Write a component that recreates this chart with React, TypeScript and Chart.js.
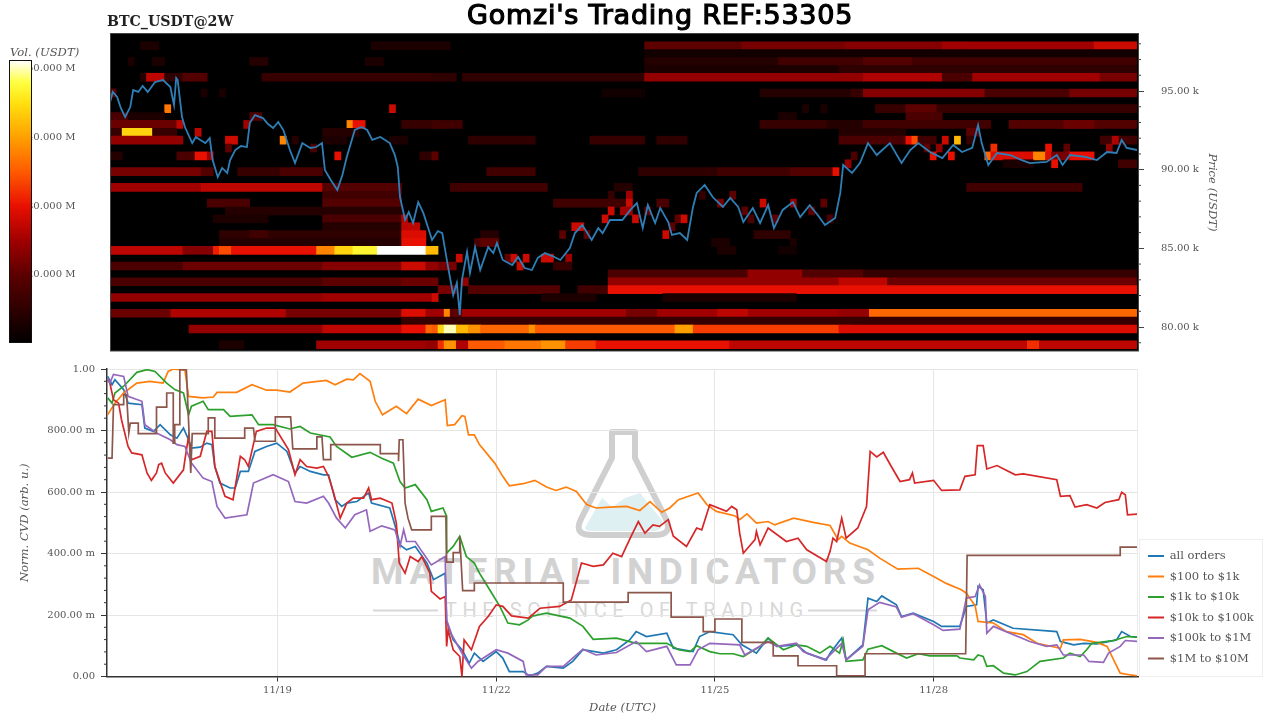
import React, { useEffect, useRef } from "react";
import { Chart, registerables } from "chart.js";

Chart.register(...registerables);

const serif = '"DejaVu Serif", serif';
Chart.defaults.font.family = serif;
Chart.defaults.color = "#555";

// ---------- Labels ----------
const dateTicks = [19, 22, 25, 28];
const dateLabels: Record<number, string> = { 19: "11/19", 22: "11/22", 25: "11/25", 28: "11/28" };
const priceTicks = [80000, 85000, 90000, 95000];
const priceMinorTicks = [79000, 81000, 82000, 83000, 84000, 86000, 87000, 88000, 89000, 91000, 92000, 93000, 94000, 96000, 97000, 98000];
const volumeTicks = [20, 30, 40, 50];
const cvdTicks = [0, 0.2, 0.4, 0.6, 0.8, 1];
const cvdMinorTicks = [0.04, 0.08, 0.12, 0.16, 0.24, 0.28, 0.32, 0.36, 0.44, 0.48, 0.52, 0.56, 0.64, 0.68, 0.72, 0.76, 0.84, 0.88, 0.92, 0.96];

// ---------- Heat map: price rows (USDT) and runs of 2-hour columns ----------
const heatFirstDay = 16.702;
const columnsPerDay = 12;
const rowPrices = [97875, 97375, 96875, 96375, 95875, 95375, 94875, 94375, 93875, 93375, 92875, 92375, 91875, 91375, 90875, 90375, 89875, 89375, 88875, 88375, 87875, 87375, 86875, 86375, 85875, 85375, 84875, 84375, 83875, 83375, 82875, 82375, 81875, 81375, 80875, 80375, 79875, 79375, 78875];

// [row, first column, end column, volume in M]
const heatRunsUpper: number[][] = [
  [0,5,8,13],[0,43,56,13],[0,88,104,20],[0,104,121,22],[0,121,137,23],[0,137,141,25],[0,141,162,25],[0,162,169,28],
  [1,88,169,12],
  [2,3,4,13],[2,7,9,13],[2,23,26,14],[2,42,45,13],[2,88,110,14],[2,110,169,17],[2,124,132,19],
  [3,88,120,13],[3,120,169,15],
  [4,5,6,14],[4,6,9,27],[4,9,12,15],[4,12,16,19],[4,25,54,16],[4,53,57,15],[4,58,88,15],[4,88,124,24],[4,124,137,26],[4,137,142,18],[4,142,163,25],[4,163,169,22],
  [6,0,1,20],[6,15,16,13],[6,18,19,13],[6,81,88,12],[6,107,122,14],[6,122,124,16],[6,124,144,23],[6,144,158,18],[6,158,169,22],
  [8,9,10,37],[8,46,47,28],[8,114,115,13],[8,117,118,13],[8,126,169,16],[8,131,136,20],
  [9,0,3,18],[9,3,9,13],[9,23,25,19],[9,110,113,13],[9,131,137,18],
  [10,0,11,21],[10,11,12,27],[10,22,23,25],[10,39,40,38],[10,40,42,30],[10,48,54,16],[10,53,58,17],[10,107,118,16],[10,118,124,14],[10,124,145,17],[10,148,169,19],[10,157,162,21],
  [11,0,2,16],[11,2,7,44],[11,7,11,16],[11,14,15,27],[11,35,41,14],[11,120,131,14],[11,141,143,20],
  [12,0,12,24],[12,19,21,28],[12,28,29,38],[12,30,31,14],[12,35,39,13],[12,46,49,13],[12,59,70,15],[12,79,88,16],[12,90,95,15],[12,120,131,18],[12,131,132,30],[12,132,133,34],[12,133,136,17],[12,137,138,28],[12,139,140,42],[12,141,142,16],[12,163,169,17],[12,165,166,26],
  [13,19,20,20],[13,33,34,18],[13,134,135,20],[13,136,137,24],[13,145,146,32],[13,154,155,30],[13,157,158,20],[13,164,165,24],
  [14,0,2,14],[14,11,14,18],[14,14,16,30],[14,16,17,25],[14,37,38,30],[14,51,54,15],[14,53,54,20],[14,122,123,18],[14,135,136,30],[14,138,139,30],[14,144,145,36],[14,145,152,29],[14,152,154,38],[14,154,155,29],[14,155,158,22],[14,158,162,30],
  [15,147,152,13],[15,155,156,30],[15,166,169,17],[15,121,122,24],
];

const heatRunsNearPrice: number[][] = [
  [16,0,15,22],[16,15,17,19],[16,21,28,16],[16,28,35,18],[16,62,70,17],[16,87,100,15],[16,100,112,17],[16,112,119,19],[16,119,120,30],
  [18,0,15,25],[18,15,35,27],[18,35,48,19],[18,56,72,17],[18,83,86,14],[18,141,160,17],
  [19,35,48,17],[19,82,83,16],[19,85,86,25],[19,97,98,16],[19,102,103,20],
  [20,16,23,18],[20,35,48,19],[20,73,85,17],[20,85,86,28],[20,90,92,18],[20,100,101,22],[20,107,108,28],[20,112,113,24],[20,117,118,20],
  [21,19,35,14],[21,35,48,14],[21,82,83,28],[21,84,86,25],[21,88,89,20],[21,104,105,20],[21,115,116,20],
  [22,17,26,13],[22,35,48,18],[22,48,49,26],[22,81,82,28],[22,86,87,28],[22,93,94,20],[22,94,95,28],[22,105,106,18],[22,109,110,20],[22,118,119,18],
  [23,35,48,14],[23,48,51,27],[23,76,78,28],[23,92,93,20],
  [24,18,48,15],[24,23,26,17],[24,48,52,29],[24,61,64,14],[24,74,75,20],[24,78,79,20],[24,91,92,28],[24,106,112,15],
  [25,18,48,14],[25,48,52,30],[25,60,64,18],[25,61,64,20],[25,99,102,13],[25,112,113,13],
];

const heatRunsLower: number[][] = [
  [26,0,12,27],[26,12,17,23],[26,17,18,31],[26,18,20,34],[26,20,34,30],[26,34,37,38],[26,37,40,44],[26,40,44,47],[26,44,52,52],[26,52,54,42],[26,100,103,13],[26,110,113,12],
  [27,57,58,28],[27,65,66,20],[27,66,67,28],[27,68,69,28],[27,71,73,28],[27,75,76,25],
  [28,0,12,18],[28,12,35,21],[28,35,48,23],[28,48,52,28],[28,52,54,24],[28,54,57,22],[28,67,68,28],[28,73,76,16],
  [29,82,105,18],[29,105,114,24],[29,114,124,19],[29,124,169,16],
  [30,0,35,18],[30,35,48,20],[30,48,54,21],[30,58,59,24],[30,82,120,24],[30,120,128,27],[30,128,169,21],
  [31,54,57,22],[31,59,74,19],[31,77,82,17],[31,82,169,30],
  [32,0,35,24],[32,35,54,25],[32,53,54,28],[32,71,80,13],[32,91,113,13],
  [34,0,10,21],[34,10,29,26],[34,29,48,22],[34,48,52,29],[34,52,55,25],[34,55,56,38],[34,56,58,20],[34,58,120,25],[34,85,90,22],[34,100,105,27],[34,120,125,24],[34,125,169,36],
  [35,48,53,16],[35,53,169,16],
  [36,13,35,24],[36,35,48,27],[36,48,52,30],[36,52,53,36],[36,53,54,35],[36,54,55,44],[36,55,57,50],[36,57,59,42],[36,59,61,39],[36,61,69,36],[36,69,70,39],[36,70,93,35],[36,93,96,40],[36,96,120,33],[36,120,122,29],[36,122,169,29],
  [38,18,22,13],[38,34,52,25],[38,52,54,24],[38,54,55,32],[38,55,57,39],[38,57,59,26],[38,59,65,35],[38,65,71,37],[38,71,75,39],[38,75,80,33],[38,80,102,30],[38,102,151,27],[38,151,153,32],[38,153,169,27],
];

// ---------- BTC price: [day of November, price in thousand USDT] ----------
const priceLine: number[][] = [
  [16.70,94.24],[16.74,94.94],[16.80,94.62],[16.85,93.92],[16.91,93.35],[16.98,93.98],[17.02,95.06],[17.09,94.94],[17.15,95.32],[17.22,94.94],[17.32,95.57],[17.43,95.70],[17.53,95.25],[17.58,94.11],[17.61,95.83],[17.63,95.70],[17.69,93.35],[17.73,92.71],[17.83,91.69],[17.88,92.08],[17.94,91.89],[18.01,91.69],[18.07,92.01],[18.11,90.61],[18.18,89.53],[18.24,90.11],[18.31,89.79],[18.35,90.61],[18.42,91.25],[18.50,91.50],[18.58,91.44],[18.62,92.97],[18.69,93.47],[18.80,93.28],[18.87,92.90],[18.94,92.65],[19.01,93.03],[19.08,92.52],[19.17,91.25],[19.24,90.42],[19.34,91.69],[19.45,91.38],[19.53,91.44],[19.61,91.69],[19.65,89.98],[19.73,89.34],[19.82,88.71],[19.89,89.66],[19.95,90.81],[20.06,92.52],[20.15,92.71],[20.23,92.52],[20.30,91.89],[20.41,92.08],[20.54,91.69],[20.61,90.93],[20.65,90.17],[20.68,88.26],[20.75,86.80],[20.80,87.31],[20.86,86.61],[20.93,87.94],[21.00,87.25],[21.12,85.53],[21.20,86.10],[21.26,85.97],[21.34,83.81],[21.41,82.03],[21.46,82.80],[21.50,80.76],[21.53,82.99],[21.60,84.77],[21.64,83.43],[21.71,85.08],[21.78,83.62],[21.89,85.08],[21.96,84.70],[22.01,85.34],[22.09,84.26],[22.22,83.94],[22.30,84.45],[22.39,83.75],[22.49,83.62],[22.57,84.39],[22.67,84.70],[22.77,84.51],[22.88,84.26],[23.01,85.02],[23.08,85.97],[23.18,86.48],[23.31,85.53],[23.40,86.29],[23.46,85.97],[23.56,86.80],[23.73,86.80],[23.84,87.44],[23.93,87.88],[24.01,86.29],[24.08,87.75],[24.18,86.61],[24.25,87.56],[24.36,86.67],[24.41,85.85],[24.52,85.97],[24.62,85.53],[24.70,87.63],[24.75,88.52],[24.86,89.03],[24.97,88.26],[25.11,87.63],[25.21,88.20],[25.32,87.63],[25.39,86.67],[25.52,87.56],[25.62,86.61],[25.73,87.75],[25.81,86.29],[25.93,87.44],[26.07,87.94],[26.17,86.99],[26.30,87.75],[26.41,87.12],[26.51,86.48],[26.65,86.93],[26.72,88.52],[26.76,90.30],[26.88,89.79],[26.99,90.42],[27.10,91.69],[27.22,90.93],[27.40,91.69],[27.56,90.42],[27.68,91.25],[27.79,91.69],[27.95,91.12],[28.12,90.74],[28.27,91.57],[28.39,91.12],[28.53,91.38],[28.61,92.84],[28.66,91.69],[28.75,90.30],[28.87,91.06],[29.05,90.93],[29.21,90.61],[29.32,90.42],[29.55,90.49],[29.69,90.93],[29.77,90.30],[29.87,90.93],[30.08,90.81],[30.24,90.61],[30.38,91.12],[30.51,91.06],[30.58,91.89],[30.65,91.38],[30.79,91.25],
];

// ---------- Normalised CVD: [day of November, value] ----------
const allOrders: number[][] = [
  [16.67,.976],[16.73,.949],[16.77,.965],[16.89,.933],[16.95,.889],[17.14,.884],[17.18,.808],[17.30,.797],[17.39,.819],[17.53,.786],[17.62,.775],[17.71,.808],[17.78,.770],[17.82,.743],[17.94,.746],[18.03,.759],[18.10,.754],[18.14,.683],[18.21,.629],[18.35,.613],[18.42,.613],[18.49,.667],[18.60,.667],[18.69,.732],[18.85,.748],[18.99,.759],[19.13,.732],[19.24,.662],[19.31,.683],[19.45,.667],[19.63,.656],[19.70,.656],[19.79,.575],[19.88,.553],[19.95,.564],[20.09,.569],[20.25,.597],[20.29,.564],[20.54,.548],[20.63,.477],[20.68,.428],[20.77,.412],[20.89,.423],[21.05,.369],[21.14,.315],[21.30,.336],[21.32,.179],[21.41,.119],[21.53,.087],[21.63,.043],[21.70,.076],[21.82,.049],[22.00,.081],[22.09,.060],[22.18,.016],[22.37,.016],[22.46,.002],[22.57,.011],[22.69,.033],[22.92,.027],[23.05,.049],[23.19,.087],[23.47,.076],[23.65,.087],[23.83,.119],[23.92,.146],[24.06,.130],[24.34,.141],[24.43,.092],[24.70,.081],[24.79,.130],[24.93,.146],[25.25,.136],[25.37,.103],[25.57,.076],[25.73,.125],[25.85,.098],[26.12,.103],[26.26,.076],[26.53,.054],[26.58,.076],[26.74,.125],[26.80,.054],[27.03,.103],[27.10,.255],[27.22,.244],[27.29,.262],[27.49,.233],[27.56,.195],[27.72,.206],[28.00,.179],[28.11,.163],[28.36,.163],[28.45,.228],[28.59,.233],[28.61,.293],[28.68,.282],[28.73,.174],[28.82,.184],[29.09,.157],[29.69,.146],[29.74,.114],[29.92,.103],[30.06,.108],[30.24,.106],[30.51,.119],[30.58,.146],[30.70,.130],[30.79,.128],
];
const orders100to1k: number[][] = [
  [16.67,.851],[16.77,.889],[16.89,.922],[17.07,.954],[17.25,.960],[17.43,.954],[17.50,.992],[17.57,1],[17.73,.996],[17.78,.911],[17.98,.906],[18.12,.909],[18.17,.924],[18.44,.924],[18.65,.949],[18.85,.931],[18.99,.931],[19.17,.925],[19.35,.954],[19.67,.963],[19.79,.949],[19.95,.967],[20.04,.965],[20.13,.985],[20.27,.960],[20.34,.895],[20.44,.851],[20.63,.879],[20.77,.855],[20.93,.902],[21.11,.881],[21.30,.900],[21.33,.816],[21.43,.819],[21.53,.848],[21.57,.846],[21.62,.786],[21.70,.786],[21.77,.754],[21.98,.694],[22.09,.651],[22.18,.620],[22.37,.627],[22.53,.638],[22.69,.616],[22.82,.605],[22.96,.616],[23.10,.602],[23.24,.559],[23.37,.548],[23.56,.551],[23.79,.553],[23.97,.540],[24.11,.569],[24.27,.534],[24.38,.548],[24.50,.575],[24.77,.597],[24.89,.559],[25.02,.537],[25.27,.523],[25.34,.510],[25.44,.529],[25.57,.499],[25.73,.504],[25.82,.493],[26.08,.515],[26.35,.501],[26.58,.491],[26.69,.445],[26.74,.456],[26.85,.434],[27.10,.412],[27.26,.385],[27.51,.349],[27.79,.352],[28.00,.325],[28.18,.302],[28.38,.282],[28.45,.271],[28.57,.230],[28.61,.179],[28.82,.174],[29.00,.146],[29.23,.136],[29.42,.108],[29.74,.092],[29.78,.119],[30.01,.121],[30.24,.111],[30.38,.098],[30.47,.054],[30.56,.011],[30.70,.005],[30.79,.002],
];
const orders1kto10k: number[][] = [
  [16.67,.906],[16.73,.889],[16.77,.922],[16.89,.944],[17.07,.989],[17.21,.998],[17.32,.992],[17.48,.954],[17.59,.933],[17.71,.922],[17.78,.851],[17.82,.879],[17.98,.895],[18.05,.868],[18.26,.868],[18.35,.846],[18.65,.851],[18.74,.819],[18.94,.819],[19.17,.805],[19.31,.813],[19.45,.792],[19.72,.779],[19.81,.748],[20.02,.713],[20.27,.729],[20.43,.710],[20.59,.694],[20.68,.634],[20.75,.613],[20.89,.624],[21.05,.575],[21.11,.537],[21.27,.548],[21.32,.521],[21.32,.401],[21.41,.423],[21.50,.456],[21.59,.390],[21.70,.369],[21.77,.336],[21.91,.282],[22.05,.228],[22.16,.174],[22.32,.168],[22.44,.184],[22.50,.197],[22.69,.206],[23.01,.190],[23.19,.163],[23.33,.121],[23.65,.125],[23.92,.108],[24.34,.108],[24.50,.087],[24.66,.081],[24.75,.100],[24.93,.081],[25.07,.074],[25.25,.074],[25.39,.065],[25.62,.098],[25.73,.125],[25.94,.087],[26.12,.103],[26.26,.098],[26.44,.076],[26.58,.098],[26.71,.076],[26.76,.119],[26.80,.049],[27.03,.054],[27.10,.089],[27.29,.100],[27.49,.076],[27.63,.060],[27.79,.074],[27.95,.067],[28.32,.067],[28.36,.060],[28.55,.054],[28.61,.070],[28.68,.065],[28.73,.033],[28.82,.035],[28.96,.011],[29.12,.005],[29.28,.016],[29.46,.049],[29.78,.060],[29.87,.076],[30.01,.065],[30.10,.087],[30.17,.108],[30.47,.117],[30.65,.130],[30.79,.128],
];
const orders10kto100k: number[][] = [
  [16.67,.965],[16.70,.954],[16.75,.900],[16.82,.889],[16.86,.835],[16.95,.748],[17.00,.727],[17.14,.721],[17.21,.662],[17.27,.638],[17.34,.662],[17.37,.689],[17.41,.694],[17.46,.662],[17.57,.629],[17.71,.672],[17.73,.705],[17.78,.781],[17.82,.705],[17.94,.716],[18.03,.797],[18.10,.797],[18.14,.683],[18.28,.586],[18.39,.575],[18.49,.716],[18.55,.705],[18.60,.683],[18.71,.797],[18.85,.808],[18.97,.808],[19.15,.738],[19.24,.656],[19.31,.705],[19.40,.683],[19.54,.678],[19.63,.683],[19.70,.651],[19.77,.597],[19.86,.515],[19.95,.564],[20.04,.580],[20.18,.580],[20.25,.613],[20.29,.575],[20.41,.580],[20.57,.564],[20.63,.499],[20.67,.369],[20.75,.336],[20.82,.390],[20.93,.374],[20.98,.390],[21.09,.336],[21.11,.277],[21.23,.252],[21.30,.260],[21.32,.098],[21.34,.152],[21.41,.087],[21.50,.065],[21.53,0],[21.56,.119],[21.66,.087],[21.77,.163],[21.89,.195],[22.00,.233],[22.09,.228],[22.21,.197],[22.44,.190],[22.60,.222],[22.87,.228],[23.03,.249],[23.17,.369],[23.33,.358],[23.47,.363],[23.60,.401],[23.72,.390],[23.85,.456],[23.95,.504],[24.04,.466],[24.15,.493],[24.24,.488],[24.36,.510],[24.43,.456],[24.61,.423],[24.75,.483],[24.82,.477],[24.93,.559],[25.16,.537],[25.23,.553],[25.30,.542],[25.34,.466],[25.39,.401],[25.55,.445],[25.57,.472],[25.62,.428],[25.73,.483],[25.98,.439],[26.14,.450],[26.26,.412],[26.53,.374],[26.58,.407],[26.62,.450],[26.67,.439],[26.74,.515],[26.80,.450],[26.96,.483],[27.08,.553],[27.13,.732],[27.22,.714],[27.31,.729],[27.42,.683],[27.54,.634],[27.67,.640],[27.71,.662],[27.74,.629],[28.00,.638],[28.11,.605],[28.36,.607],[28.43,.651],[28.57,.656],[28.60,.751],[28.68,.751],[28.73,.675],[28.87,.686],[29.12,.656],[29.23,.659],[29.69,.640],[29.74,.586],[29.87,.588],[29.94,.551],[30.10,.559],[30.24,.548],[30.35,.566],[30.54,.575],[30.58,.599],[30.63,.591],[30.66,.526],[30.79,.528],
];
const orders100kto1M: number[][] = [
  [16.67,.971],[16.70,.954],[16.75,.982],[16.89,.976],[16.95,.911],[17.14,.895],[17.18,.819],[17.34,.792],[17.53,.770],[17.62,.754],[17.73,.748],[17.82,.694],[17.98,.645],[18.10,.634],[18.17,.553],[18.28,.515],[18.58,.526],[18.67,.629],[18.94,.656],[19.15,.634],[19.24,.569],[19.40,.564],[19.63,.586],[19.70,.564],[19.81,.515],[19.93,.483],[20.06,.526],[20.22,.542],[20.27,.472],[20.43,.490],[20.61,.477],[20.68,.423],[20.73,.477],[20.77,.439],[20.89,.439],[20.98,.407],[21.11,.363],[21.30,.390],[21.32,.184],[21.39,.136],[21.53,.076],[21.66,.027],[21.75,.049],[22.00,.087],[22.16,.076],[22.37,.049],[22.41,.005],[22.57,.005],[22.69,.033],[22.92,.033],[23.10,.070],[23.19,.089],[23.37,.070],[23.65,.078],[23.92,.114],[24.06,.081],[24.34,.098],[24.47,.038],[24.66,.038],[24.77,.087],[24.93,.108],[25.34,.103],[25.41,.070],[25.73,.114],[25.85,.098],[26.12,.108],[26.21,.081],[26.51,.054],[26.58,.070],[26.74,.108],[26.80,.054],[27.03,.098],[27.10,.217],[27.26,.241],[27.49,.226],[27.56,.193],[27.72,.204],[28.00,.168],[28.13,.150],[28.36,.154],[28.45,.255],[28.57,.260],[28.63,.298],[28.71,.260],[28.73,.141],[28.82,.163],[29.32,.114],[29.55,.098],[29.69,.103],[29.78,.070],[30.06,.070],[30.13,.049],[30.33,.046],[30.40,.076],[30.56,.098],[30.63,.117],[30.79,.114],
];
const orders1Mto10M: number[][] = [
  [16.67,.710],[16.73,.710],[16.75,.884],[16.89,.884],[16.89,.916],[16.93,.916],[16.96,.792],[16.98,.824],[17.09,.824],[17.09,.790],[17.34,.790],[17.34,.876],[17.48,.876],[17.48,.922],[17.57,.922],[17.57,.759],[17.59,.759],[17.59,.819],[17.66,.819],[17.66,.998],[17.75,.998],[17.81,.662],[17.83,.790],[18.05,.790],[18.05,.841],[18.14,.841],[18.14,.775],[18.55,.775],[18.55,.808],[18.67,.808],[18.69,.765],[18.97,.765],[18.97,.844],[19.18,.844],[19.21,.740],[19.53,.740],[19.54,.779],[19.61,.779],[19.63,.705],[19.73,.705],[19.73,.754],[20.41,.754],[20.41,.725],[20.66,.725],[20.66,.700],[20.67,.770],[20.72,.770],[20.75,.564],[20.79,.515],[20.84,.477],[21.11,.477],[21.11,.521],[21.31,.521],[21.32,.372],[21.41,.372],[21.41,.403],[21.50,.403],[21.50,.456],[21.54,.279],[21.70,.279],[21.70,.304],[22.92,.304],[22.92,.242],[23.81,.242],[23.81,.273],[24.40,.273],[24.40,.193],[24.84,.193],[24.84,.146],[25.00,.146],[25.00,.187],[25.37,.187],[25.37,.111],[25.80,.111],[25.80,.067],[26.14,.067],[26.14,.035],[26.67,.035],[26.67,.002],[27.06,.002],[27.06,.074],[28.44,.074],[28.46,.394],[30.56,.394],[30.56,.421],[30.79,.421],
];

const cvdSeries = [
  { label: "all orders", values: allOrders, color: "#1f77b4" },
  { label: "$100 to $1k", values: orders100to1k, color: "#ff7f0e" },
  { label: "$1k to $10k", values: orders1kto10k, color: "#2ca02c" },
  { label: "$10k to $100k", values: orders10kto100k, color: "#d62728" },
  { label: "$100k to $1M", values: orders100kto1M, color: "#9467bd" },
  { label: "$1M to $10M", values: orders1Mto10M, color: "#8c564b" },
];

// ---------- Colour scale ----------
const colorStops: [number, number[]][] = [
  [10, [0, 0, 0]], [15, [46, 0, 0]], [20, [92, 0, 0]], [25, [160, 0, 0]], [30, [232, 16, 0]],
  [35, [255, 90, 0]], [40, [255, 160, 0]], [45, [255, 224, 16]], [48, [255, 255, 64]], [51.2, [255, 255, 255]],
];
function heatColor(v: number): string {
  if (v <= colorStops[0][0]) return "rgb(0,0,0)";
  for (let i = 1; i < colorStops.length; i++) {
    const [v1, c1] = colorStops[i];
    if (v <= v1) {
      const [v0, c0] = colorStops[i - 1];
      const f = (v - v0) / (v1 - v0);
      return `rgb(${c0.map((c, k) => Math.round(c + (c1[k] - c) * f)).join(",")})`;
    }
  }
  return "rgb(255,255,255)";
}
const colorbarLevels: number[] = [];
for (let v = 10.1; v <= 51.2; v += 0.25) colorbarLevels.push(v);

// ---------- Plugins ----------
const minorTicksPlugin = {
  id: "minorTicks",
  afterDatasetsDraw(chart: any, _a: any, o: any) {
    if (!o.values) return;
    const s = chart.scales[o.axis];
    const ctx = chart.ctx;
    ctx.save();
    ctx.strokeStyle = o.color;
    ctx.lineWidth = 1;
    ctx.beginPath();
    for (const v of o.values) {
      const y = s.getPixelForValue(v);
      ctx.moveTo(o.side === "right" ? chart.chartArea.right : chart.chartArea.left, y);
      ctx.lineTo((o.side === "right" ? chart.chartArea.right : chart.chartArea.left) + (o.side === "right" ? o.length : -o.length), y);
    }
    ctx.stroke();
    ctx.restore();
  },
};

const blackPlotPlugin = {
  id: "blackPlot",
  beforeDatasetsDraw(chart: any) {
    const { ctx, chartArea: a } = chart;
    ctx.save();
    ctx.fillStyle = "#000";
    ctx.fillRect(a.left, a.top, a.right - a.left, a.bottom - a.top);
    ctx.restore();
  },
  afterDatasetsDraw(chart: any) {
    const { ctx, chartArea: a } = chart;
    ctx.save();
    ctx.strokeStyle = "#444";
    ctx.lineWidth = 1;
    ctx.strokeRect(a.left + 0.5, a.top - 0.5, a.right - a.left, a.bottom - a.top + 0.5);
    ctx.restore();
  },
};

const colorbarFramePlugin = {
  id: "colorbarFrame",
  afterDatasetsDraw(chart: any) {
    const { ctx, chartArea: a } = chart;
    ctx.save();
    ctx.strokeStyle = "#111";
    ctx.lineWidth = 1;
    ctx.strokeRect(a.left + 0.5, a.top + 0.5, a.right - a.left - 1, a.bottom - a.top - 1);
    ctx.restore();
  },
};

const legendPlacePlugin = {
  id: "legendPlace",
  afterLayout(chart: any) {
    const l = chart.legend;
    l.left = 1139;
    l.right = 1262;
    l.top = 181.3;
    l.bottom = 317;
  },
  beforeDraw(chart: any) {
    const { ctx, chartArea: a } = chart;
    ctx.save();
    ctx.strokeStyle = "#eeeeee";
    ctx.fillStyle = "#fff";
    ctx.fillRect(1139.5, 179.5, 123, 137);
    ctx.strokeRect(1139.5, 179.5, 123, 137);
    ctx.strokeStyle = "#ececec";
    ctx.beginPath();
    ctx.moveTo(a.left, a.top + 0.5);
    ctx.lineTo(a.right - 0.5, a.top + 0.5);
    ctx.lineTo(a.right - 0.5, a.bottom);
    ctx.stroke();
    ctx.restore();
  },
};

// ---------- Component ----------
export default function App() {
  const heatRef = useRef<HTMLCanvasElement>(null);
  const barRef = useRef<HTMLCanvasElement>(null);
  const cvdRef = useRef<HTMLCanvasElement>(null);

  useEffect(() => {
    const prevMargin = document.body.style.margin;
    document.body.style.margin = "0";

    const heatCells = [...heatRunsUpper, ...heatRunsNearPrice, ...heatRunsLower].map(([r, c0, c1, v]) => ({
      x: [heatFirstDay + c0 / columnsPerDay, heatFirstDay + c1 / columnsPerDay],
      y: rowPrices[r],
      v,
    }));

    const heat = new Chart(heatRef.current!, {
      type: "line",
      data: {
        datasets: [
          {
            type: "line",
            data: priceLine.map(([x, y]) => ({ x, y: y * 1000 })),
            borderColor: "#2f7fb6",
            borderWidth: 1.8,
            pointRadius: 0,
            tension: 0,
            order: 0,
          } as any,
          {
            type: "bar",
            indexAxis: "y",
            data: heatCells,
            backgroundColor: (c: any) => heatColor(c.raw ? c.raw.v : 0),
            barThickness: 8,
            grouped: false,
            borderWidth: 0,
            order: 1,
          } as any,
        ],
      },
      options: {
        animation: false,
        responsive: false,
        devicePixelRatio: 1,
        layout: { padding: { left: 110, right: 61, top: 34, bottom: 9 } },
        plugins: {
          legend: { display: false },
          tooltip: { enabled: false },
          minorTicks: { axis: "y", values: priceMinorTicks, side: "right", length: 3, color: "#444" },
        } as any,
        scales: {
          x: { type: "linear", display: false, min: 16.702, max: 30.804, offset: false, grid: { offset: false } },
          y: {
            type: "linear",
            position: "right",
            min: 78475,
            max: 98623,
            offset: false,
            afterBuildTicks: (s: any) => { s.ticks = priceTicks.map((value) => ({ value })); },
            afterFit: (s: any) => { s.width = 81; s.paddingTop = 0; s.paddingBottom = 0; },
            grid: { drawOnChartArea: false, offset: false, tickLength: 6, tickColor: "#444" },
            border: { display: false },
            ticks: {
              padding: 17,
              font: { size: 10 },
              color: "#555",
              callback: (v: any) => `${(Number(v) / 1000).toFixed(2)} k`,
            },
            title: { display: true, text: "Price (USDT)", color: "#555", font: { size: 11.6, style: "italic" }, padding: 0 },
          },
        },
      } as any,
      plugins: [blackPlotPlugin, minorTicksPlugin],
    });

    const bar = new Chart(barRef.current!, {
      type: "line",
      data: {
        datasets: [
          {
            type: "bar",
            indexAxis: "y",
            data: colorbarLevels.map((v) => ({ x: [0, 1], y: v })),
            backgroundColor: (c: any) => heatColor(c.raw ? c.raw.y : 0),
            barThickness: 2,
            grouped: false,
            borderWidth: 0,
          } as any,
        ],
      },
      options: {
        animation: false,
        responsive: false,
        devicePixelRatio: 1,
        layout: { padding: { left: 9, right: 0, top: 60, bottom: 17 } },
        plugins: { legend: { display: false }, tooltip: { enabled: false } },
        scales: {
          x: { type: "linear", display: false, min: 0, max: 1, offset: false, grid: { offset: false } },
          y: {
            type: "linear",
            position: "right",
            min: 10.1,
            max: 51.2,
            offset: false,
            afterBuildTicks: (s: any) => { s.ticks = volumeTicks.map((value) => ({ value })); },
            afterFit: (s: any) => { s.width = 58; },
            grid: { drawOnChartArea: false, offset: false, drawTicks: false },
            border: { display: false },
            ticks: {
              z: 2,
              padding: -5,
              font: { size: 10 },
              color: "#555",
              callback: (v: any) => `${Number(v).toFixed(3)} M`,
            },
          },
        },
      } as any,
      plugins: [colorbarFramePlugin],
    });

    const cvd = new Chart(cvdRef.current!, {
      type: "line",
      data: {
        datasets: cvdSeries.map((s) => ({
          label: s.label,
          data: s.values.map(([x, y]) => ({ x, y })),
          borderColor: s.color,
          backgroundColor: s.color,
          borderWidth: 1.7,
          pointRadius: 0,
          tension: 0,
          order: -cvdSeries.indexOf(s),
        })),
      },
      options: {
        animation: false,
        responsive: false,
        devicePixelRatio: 1,
        layout: { padding: { left: 18, right: 142, top: 9, bottom: 3.5 } },
        plugins: {
          tooltip: { enabled: false },
          minorTicks: { axis: "y", values: cvdMinorTicks, side: "left", length: 3, color: "#333" },
          legend: {
            position: "chartArea",
            align: "start",
            labels: {
              boxWidth: 16,
              boxHeight: 2,
              padding: 9,
              color: "#555",
              font: { size: 11.5 },
              sort: (a: any, b: any) => a.datasetIndex - b.datasetIndex,
              generateLabels: (c: any) =>
                Chart.defaults.plugins.legend.labels.generateLabels(c).map((i: any) => ({ ...i, lineWidth: 0 })),
            },
          },
        } as any,
        scales: {
          x: {
            type: "linear",
            min: 16.661,
            max: 30.804,
            afterBuildTicks: (s: any) => { s.ticks = dateTicks.map((value) => ({ value })); },
            afterFit: (s: any) => { s.height = 40; },
            grid: { color: "#e6e6e6", tickColor: "#333", tickLength: 5 },
            border: { color: "#333", width: 1.5 },
            ticks: {
              padding: 3,
              maxRotation: 0,
              font: { size: 10 },
              color: "#555",
              callback: (v: any) => dateLabels[Number(v)] ?? "",
            },
            title: { display: true, text: "Date (UTC)", color: "#555", font: { size: 11.6, style: "italic" }, padding: { top: 0, bottom: 2 } },
          },
          y: {
            type: "linear",
            min: 0,
            max: 1,
            afterBuildTicks: (s: any) => { s.ticks = cvdTicks.map((value) => ({ value })); },
            afterFit: (s: any) => { s.width = 89; s.paddingTop = 0; s.paddingBottom = 0; },
            grid: { color: "#e6e6e6", tickColor: "#333", tickLength: 6 },
            border: { color: "#333", width: 1.5 },
            ticks: {
              padding: 6,
              font: { size: 10 },
              color: "#555",
              callback: (v: any) => {
                const n = Number(v);
                if (n === 0) return "0.00";
                if (n === 1) return "1.00";
                return `${(n * 1000).toFixed(2)} m`;
              },
            },
            title: { display: true, text: "Norm. CVD (arb. u.)", color: "#555", font: { size: 11.6, style: "italic" }, padding: 0 },
          },
        },
      } as any,
      plugins: [legendPlacePlugin, minorTicksPlugin],
    });

    return () => {
      heat.destroy();
      bar.destroy();
      cvd.destroy();
      document.body.style.margin = prevMargin;
    };
  }, []);

  const abs: React.CSSProperties = { position: "absolute", left: 0 };
  return (
    <div style={{ position: "relative", width: 1280, height: 720, overflow: "hidden", background: "#fff" }}>
      <svg width={1280} height={720} style={{ ...abs, top: 0 }}>
        <path d="M612 432 H635 V458 L666 519 Q673 535 655 535 H592 Q573 535 581 519 L612 458 Z" fill="none" stroke="#cfcfcf" strokeWidth={6} strokeLinejoin="round" />
        <path d="M585 528 L602 498 L612 507 L625 498 L640 493 L652 508 L662 520 Q664 530 655 531 H592 Q585 531 585 528 Z" fill="#dff0f2" />
        <text x={371} y={584} textLength={504} lengthAdjust="spacing" fontFamily="Roboto, sans-serif" fontWeight={700} fontSize={37} fill="#d2d2d2">MATERIAL INDICATORS</text>
        <text x={445} y={617} textLength={358} lengthAdjust="spacing" fontFamily="Roboto, sans-serif" fontWeight={400} fontSize={20} fill="#d8d8d8">THE SCIENCE OF TRADING</text>
        <line x1={373} y1={610.5} x2={438} y2={610.5} stroke="#d8d8d8" strokeWidth={2} />
        <line x1={808} y1={610.5} x2={877} y2={610.5} stroke="#d8d8d8" strokeWidth={2} />
      </svg>
      <canvas ref={heatRef} width={1280} height={360} style={{ ...abs, top: 0 }} />
      <canvas ref={barRef} width={90} height={360} style={{ ...abs, top: 0 }} />
      <canvas ref={cvdRef} width={1280} height={360} style={{ ...abs, top: 360 }} />
      <div style={{ ...abs, left: 107, top: 13, font: `bold 14.2px ${serif}`, color: "#222", whiteSpace: "nowrap" }}>BTC_USDT@2W</div>
      <div style={{ ...abs, left: 10, top: 45, font: `italic 11.6px ${serif}`, color: "#555", whiteSpace: "nowrap" }}>Vol. (USDT)</div>
      <div style={{ ...abs, left: 467, top: -1, font: `400 27px "DejaVu Sans", sans-serif`, letterSpacing: 0.75, color: "#000", WebkitTextStroke: "1.2px #000", whiteSpace: "nowrap" }}>Gomzi's Trading REF:53305</div>
    </div>
  );
}
